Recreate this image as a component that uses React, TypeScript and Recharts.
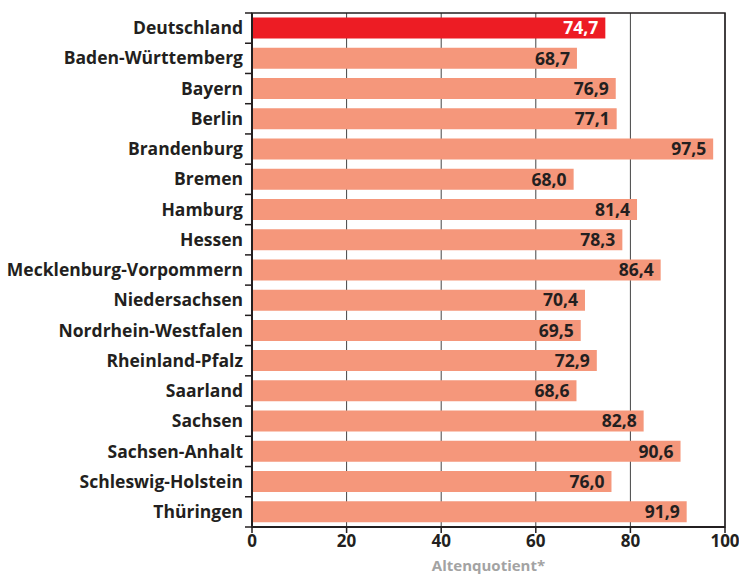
import { Bar, BarChart, CartesianGrid, Cell, LabelList, ReferenceArea, XAxis, YAxis } from 'recharts';

const regions = [
  'Deutschland',
  'Baden-Württemberg',
  'Bayern',
  'Berlin',
  'Brandenburg',
  'Bremen',
  'Hamburg',
  'Hessen',
  'Mecklenburg-Vorpommern',
  'Niedersachsen',
  'Nordrhein-Westfalen',
  'Rheinland-Pfalz',
  'Saarland',
  'Sachsen',
  'Sachsen-Anhalt',
  'Schleswig-Holstein',
  'Thüringen',
];

const altenquotient = [
  74.7, 68.7, 76.9, 77.1, 97.5, 68.0, 81.4, 78.3, 86.4, 70.4, 69.5, 72.9, 68.6, 82.8, 90.6, 76.0, 91.9,
];

const xTicks = [0, 20, 40, 60, 80, 100];

const data = regions.map((name, i) => ({ name, value: altenquotient[i] }));

const FONT = '"Open Sans", "DejaVu Sans", sans-serif';
const INK = '#231F20';
const RED = '#ED1C24';
const SALMON = '#F5977B';

const TOP = 13;
const BOTTOM = 527;
const BAND = (BOTTOM - TOP) / regions.length;

function CategoryTick(props: any) {
  const { x, y, payload, index } = props;
  const isLast = index === regions.length - 1;
  return (
    <g>
      <line x1={x + 1} x2={x + 8} y1={y - BAND / 2} y2={y - BAND / 2} stroke={INK} strokeWidth={1.5} />
      {isLast && (
        <line x1={x + 1} x2={x + 8} y1={y + BAND / 2} y2={y + BAND / 2} stroke={INK} strokeWidth={1.5} />
      )}
      <text
        x={x - 1}
        y={y}
        dy="0.35em"
        textAnchor="end"
        fill={INK}
        fontFamily={FONT}
        fontWeight={700}
        fontSize={17.5}
      >
        {payload.value}
      </text>
    </g>
  );
}

function ValueLabel(props: any) {
  const { x, y, width, height, value, index } = props;
  return (
    <text
      x={x + width - 7}
      y={y + height / 2}
      dy="0.36em"
      textAnchor="end"
      fill={index === 0 ? '#FFFFFF' : INK}
      fontFamily={FONT}
      fontWeight={700}
      fontSize={17.5}
    >
      {Number(value).toFixed(1).replace('.', ',')}
    </text>
  );
}

export default function App() {
  return (
    <div style={{ position: 'absolute', left: 0, top: 0, background: '#fff' }}>
      <BarChart
        width={739}
        height={574}
        data={data}
        layout="vertical"
        margin={{ top: TOP, right: 14, bottom: 0, left: 0 }}
        barCategoryGap="15%"
      >
        <CartesianGrid horizontal={false} vertical stroke="#444" strokeWidth={1} />
        <XAxis
          type="number"
          domain={[0, 100]}
          ticks={xTicks}
          height={47}
          interval={0}
          axisLine={{ stroke: INK, strokeWidth: 2 }}
          tickLine={{ stroke: INK, strokeWidth: 1.5 }}
          tickSize={6}
          tick={{ fill: INK, fontFamily: FONT, fontWeight: 700, fontSize: 17 }}
          label={{
            value: 'Altenquotient*',
            position: 'insideBottom',
            offset: 3,
            fill: '#A3A3A3',
            fontFamily: FONT,
            fontWeight: 700,
            fontSize: 15,
          }}
        />
        <YAxis
          type="category"
          dataKey="name"
          width={252}
          interval={0}
          tickLine={false}
          axisLine={{ stroke: INK, strokeWidth: 2 }}
          tick={<CategoryTick />}
        />
        <ReferenceArea x1={0} x2={100} fill="none" stroke={INK} strokeWidth={1.5} ifOverflow="visible" />
        <Bar dataKey="value" isAnimationActive={false}>
          {data.map((d, i) => (
            <Cell key={d.name} fill={i === 0 ? RED : SALMON} />
          ))}
          <LabelList dataKey="value" content={<ValueLabel />} />
        </Bar>
      </BarChart>
    </div>
  );
}
